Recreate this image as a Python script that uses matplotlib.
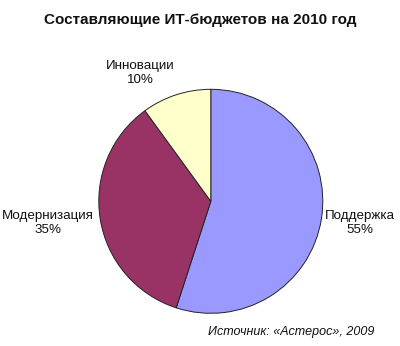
import matplotlib
matplotlib.use("Agg")
import matplotlib.pyplot as plt

categories = ["Поддержка", "Модернизация", "Инновации"]
values = [55, 35, 10]
colors = ["#9999FF", "#993366", "#FFFFCC"]
title = "Составляющие ИТ-бюджетов на 2010 год"
source = "Источник: «Астерос», 2009"

plt.rcParams['font.family'] = ['Liberation Sans', 'DejaVu Sans']

W, H = 400, 346
fig = plt.figure(figsize=(W / 100, H / 100), dpi=100)
ax = fig.add_axes([0, 0, 1, 1])

cx, cy, R = 210.8, 201.3, 112.0  # pixel centre and radius
ax.pie(values, colors=colors, startangle=90, counterclock=False,
       radius=1.0, center=(0, 0),
       wedgeprops=dict(edgecolor="#222222", linewidth=0.7))
ax.set_xlim(-cx / R, (W - cx) / R)
ax.set_ylim(-(H - cy) / R, cy / R)
ax.set_aspect("equal")
ax.axis("off")

def px(x, y):
    return (x - cx) / R, (cy - y) / R

label_pos = [(360, 223), (48, 223), (140, 73)]
for name, v, (x, y) in zip(categories, values, label_pos):
    ax.text(*px(x, y), f"{name}\n{v}%", ha="center", va="center",
            multialignment="center", fontsize=9.6, color="#111111",
            linespacing=1.25)

fig.text(200 / W, 1 - 20 / H, title, ha="center", va="center",
         fontsize=11, fontweight="bold", color="#111111")
fig.text(374 / W, 1 - 332 / H, source, ha="right", va="center",
         fontsize=9, style="italic", color="#111111")

fig.savefig("out.png", dpi=100, facecolor="white")
